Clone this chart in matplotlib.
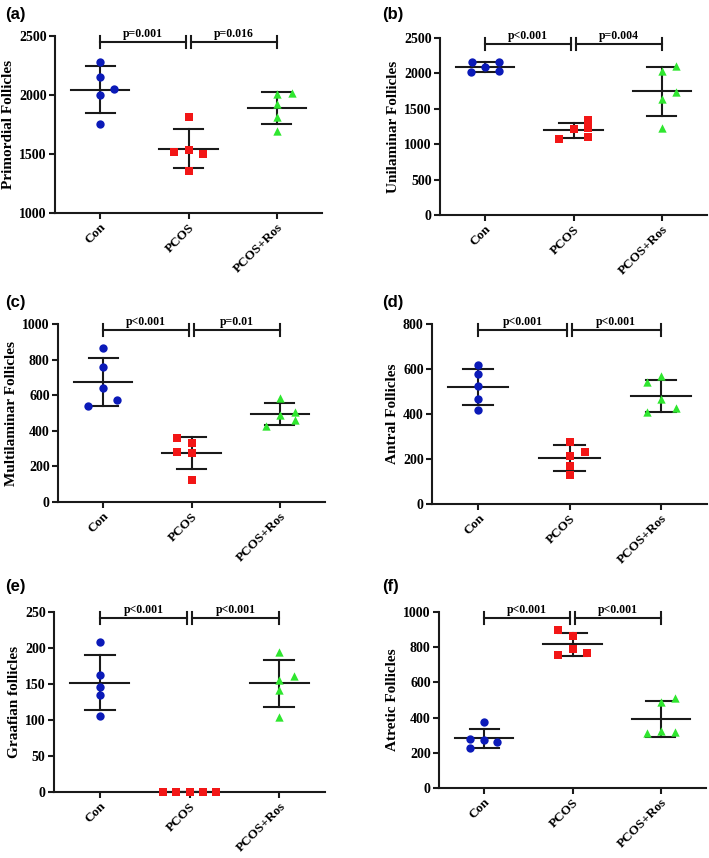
import numpy as np
import matplotlib
matplotlib.use("Agg")
import matplotlib.pyplot as plt

groups = ["Con", "PCOS", "PCOS+Ros"]
colors = ["#0b1ab8", "#f21616", "#2fe62f"]
markers = ["o", "s", "^"]

# values, one list per group
prim_con = [2276, 2155, 1996, 2053, 1750]
prim_pcos = [1812, 1518, 1535, 1504, 1359]
prim_ros = [2010, 2019, 1920, 1815, 1696]

uni_con = [2156, 2156, 2094, 2014, 2028]
uni_pcos = [1080, 1217, 1344, 1226, 1108]
uni_ros = [2033, 2099, 1637, 1731, 1226]

multi_con = [865, 756, 640, 574, 542]
multi_pcos = [362, 330, 283, 274, 124]
multi_ros = [587, 490, 508, 460, 428]

antral_con = [617, 576, 526, 466, 419]
antral_pcos = [274, 233, 214, 170, 127]
antral_ros = [543, 567, 466, 407, 425]

graaf_con = [209, 162, 146, 135, 106]
graaf_pcos = [0, 0, 0, 0, 0]
graaf_ros = [194, 161, 156, 141, 104]

atretic_con = [373, 280, 270, 264, 225]
atretic_pcos = [898, 866, 788, 769, 756]
atretic_ros = [488, 514, 323, 321, 310]

# horizontal jitter of the dots (category units)
prim_jit = [[0, 0, 0, 0.16, 0], [0, -0.16, 0, 0.16, 0], [0, 0.17, 0, 0, 0]]
uni_jit = [[-0.15, 0.16, 0, -0.16, 0.16], [-0.16, 0, 0.16, 0.16, 0.16], [0, 0.16, 0, 0.16, 0]]
multi_jit = [[0, 0, 0, 0.16, -0.17], [-0.16, 0, -0.16, 0, 0], [0, 0, 0.17, 0.17, -0.16]]
antral_jit = [[0, 0, 0, 0, 0], [0, 0.165, 0, 0, 0], [-0.15, 0, 0, -0.15, 0.17]]
graaf_jit = [[0, 0, 0, 0, 0], [-0.3, -0.15, 0, 0.15, 0.3], [0, 0.16, 0, 0, 0]]
atretic_jit = [[0, -0.165, 0, 0.15, -0.165], [-0.16, 0, 0, 0.16, -0.16], [0, 0.165, 0, 0.165, -0.16]]

panels = [
    ("(a)", "Primordial Follicles", [prim_con, prim_pcos, prim_ros], prim_jit,
     [1000, 1500, 2000, 2500], ["p=0.001", "p=0.016"]),
    ("(b)", "Unilaminar Follicles", [uni_con, uni_pcos, uni_ros], uni_jit,
     [0, 500, 1000, 1500, 2000, 2500], ["p<0.001", "p=0.004"]),
    ("(c)", "Multilaminar Follicles", [multi_con, multi_pcos, multi_ros], multi_jit,
     [0, 200, 400, 600, 800, 1000], ["p<0.001", "p=0.01"]),
    ("(d)", "Antral Follicles", [antral_con, antral_pcos, antral_ros], antral_jit,
     [0, 200, 400, 600, 800], ["p<0.001", "p<0.001"]),
    ("(e)", "Graafian follicles", [graaf_con, graaf_pcos, graaf_ros], graaf_jit,
     [0, 50, 100, 150, 200, 250], ["p<0.001", "p<0.001"]),
    ("(f)", "Atretic Follicles", [atretic_con, atretic_pcos, atretic_ros], atretic_jit,
     [0, 200, 400, 600, 800, 1000], ["p<0.001", "p<0.001"]),
]

W, H = 709, 858
# axes boxes in pixels: left, top, right, bottom
boxes = [(55, 36, 322, 213), (440, 38, 707, 215),
         (58, 324, 325, 502), (432, 324, 707, 504),
         (54, 612, 325, 792), (439, 612, 706, 788)]
label_pos = [(5, 15), (382, 15), (5, 302), (382, 302), (5, 587), (382, 587)]

serif = "Liberation Serif"
fig = plt.figure(figsize=(W / 100, H / 100), dpi=100)

for (tag, ylab, data, jit, yticks, ptxt), (l, t, r, b), (lx, ly) in zip(panels, boxes, label_pos):
    ax = fig.add_axes([l / W, 1 - b / H, (r - l) / W, (b - t) / H])
    for i, (vals, off) in enumerate(zip(data, jit)):
        vals = np.array(vals, float)
        ax.scatter(i + np.array(off), vals, s=36, marker=markers[i], color=colors[i],
                   zorder=4, clip_on=False, linewidths=0)
        m, sd = vals.mean(), vals.std(ddof=1)
        ax.plot([i - 0.33, i + 0.33], [m, m], color="#1a1a1a", lw=1.5, zorder=3, clip_on=False)
        ax.plot([i - 0.165, i + 0.165], [m + sd, m + sd], color="#1a1a1a", lw=1.5, zorder=3)
        ax.plot([i - 0.165, i + 0.165], [m - sd, m - sd], color="#1a1a1a", lw=1.5, zorder=3)
        ax.plot([i, i], [m - sd, m + sd], color="#1a1a1a", lw=1.5, zorder=3)

    # significance brackets
    tr = ax.get_xaxis_transform()
    yb, th = 0.967, 0.033
    for (x0, x1), txt in zip([(0, 0.975), (1.025, 2)], ptxt):
        ax.plot([x0, x1], [yb, yb], color="#1a1a1a", lw=1.5, transform=tr, clip_on=False)
        for xx in (x0, x1):
            ax.plot([xx, xx], [yb - th, yb + th], color="#1a1a1a", lw=1.5,
                    transform=tr, clip_on=False)
        ax.text((x0 + x1) / 2, yb + 0.012, txt, transform=tr, ha="center", va="bottom",
                fontsize=8.5, fontweight="bold", family=serif)

    ax.set_xlim(-0.51, 2.51)
    ax.set_ylim(yticks[0], yticks[-1])
    ax.set_yticks(yticks)
    ax.set_xticks(range(3))
    ax.set_xticklabels(groups, rotation=45, ha="right", rotation_mode="anchor",
                       fontsize=9.5, fontweight="bold", family=serif)
    for lab in ax.get_yticklabels():
        lab.set_fontsize(10)
        lab.set_fontweight("bold")
        lab.set_family(serif)
    ax.set_ylabel(ylab, fontsize=11, fontweight="bold", family=serif, labelpad=3)
    for s in ["top", "right"]:
        ax.spines[s].set_visible(False)
    for s in ["left", "bottom"]:
        ax.spines[s].set_linewidth(1.5)
        ax.spines[s].set_color("#1a1a1a")
    ax.tick_params(width=1.5, length=4, color="#1a1a1a", pad=2)

    fig.text(lx / W, 1 - ly / H, tag, fontsize=12, fontweight="bold",
             family="Liberation Sans", va="center", ha="left")

fig.savefig("out.png", dpi=100)
